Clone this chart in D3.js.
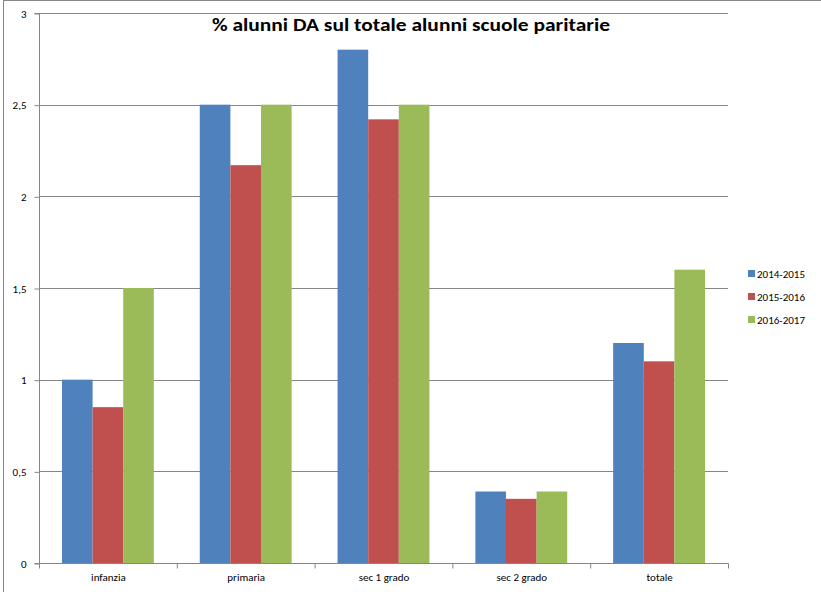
<!DOCTYPE html>
<html><head><meta charset="utf-8">
<script src="https://cdn.jsdelivr.net/npm/d3@7"></script>
<style>body{margin:0;background:#fff}svg{display:block}</style>
</head><body>
<svg id="c" width="821" height="592"></svg>
<script>
const categories = ["infanzia", "primaria", "sec 1 grado", "sec 2 grado", "totale"];
const seriesNames = ["2014-2015", "2015-2016", "2016-2017"];
const s2014 = [1.0, 2.5, 2.8, 0.39, 1.2];
const s2015 = [0.85, 2.17, 2.42, 0.35, 1.1];
const s2016 = [1.5, 2.5, 2.5, 0.39, 1.6];
const colors = ["#4F81BD", "#C0504D", "#9BBB59"];
const yTicks = [0, 0.5, 1, 1.5, 2, 2.5, 3];
const title = "% alunni DA sul totale alunni scuole paritarie";

const series = [s2014, s2015, s2016];
const svg = d3.select("#c");
const font = "Carlito, Calibri, 'Liberation Sans Narrow', 'Open Sans', sans-serif";

// frame
svg.append("line").attr("x1",3).attr("x2",821).attr("y1",0.5).attr("y2",0.5).attr("stroke","#868686");
svg.append("line").attr("x1",3.5).attr("x2",3.5).attr("y1",0).attr("y2",592).attr("stroke","#868686");

const x0 = 39, x1 = 728, yTop = 13, yBot = 563;
const x = d3.scaleBand().domain(categories).range([x0, x1]).paddingInner(0).paddingOuter(0);
const y = d3.scaleLinear().domain([0, 3]).range([yBot, yTop]);
const bw = x.bandwidth() / 4.5;
const xs = d3.scaleBand().domain(seriesNames).range([0.75 * bw, 3.75 * bw]);

// gridlines
svg.append("g").selectAll("line").data(yTicks.filter(d => d > 0)).join("line")
  .attr("x1", x0).attr("x2", x1)
  .attr("y1", d => Math.round(y(d)) + 0.5).attr("y2", d => Math.round(y(d)) + 0.5)
  .attr("stroke", "#868686").attr("stroke-width", 1);

// bars
const rows = [];
categories.forEach((c, i) => series.forEach((s, j) => rows.push({c, name: seriesNames[j], v: s[i], j})));
svg.append("g").selectAll("rect").data(rows).join("rect")
  .attr("x", d => x(d.c) + xs(d.name))
  .attr("width", xs.bandwidth())
  .attr("y", d => y(d.v))
  .attr("height", d => yBot - y(d.v))
  .attr("fill", d => colors[d.j]);

// y axis
const yAxis = d3.axisLeft(y).tickValues(yTicks).tickSize(5).tickPadding(8)
  .tickFormat(d => String(d).replace(".", ","));
const ga = svg.append("g").attr("transform", `translate(${x0 + 0.5},0.5)`).call(yAxis);
ga.select(".domain").attr("stroke", "#868686").attr("d", `M-5,${yTop}H0V${yBot}H-5`);
ga.selectAll(".tick line").attr("stroke", "#868686");
ga.selectAll(".tick text").attr("font-family", font).attr("font-size", 11).attr("fill", "#000");

// x axis
const xAxis = d3.axisBottom(x).tickSize(0).tickPadding(10);
const gx = svg.append("g").attr("transform", `translate(0.5,${yBot + 0.5})`).call(xAxis);
gx.select(".domain").attr("stroke", "#868686").attr("d", `M${x0},0H${x1}`);
gx.selectAll(".tick text").attr("font-family", font).attr("font-size", 11).attr("fill", "#000");
gx.append("g").selectAll("line").data(d3.range(categories.length + 1)).join("line")
  .attr("x1", i => x0 + i * x.bandwidth()).attr("x2", i => x0 + i * x.bandwidth())
  .attr("y1", 0).attr("y2", 5).attr("stroke", "#868686");

// title
svg.append("text").attr("x", 411).attr("y", 31).attr("text-anchor", "middle")
  .attr("font-family", font).attr("font-weight", "bold").attr("font-size", 19)
  .attr("textLength", 398).attr("lengthAdjust", "spacingAndGlyphs")
  .text(title);

// legend
const lg = svg.append("g").selectAll("g").data(seriesNames).join("g")
  .attr("transform", (d, i) => `translate(748,${270 + i * 23})`);
lg.append("rect").attr("width", 7).attr("height", 7).attr("fill", (d, i) => colors[i]);
lg.append("text").attr("x", 9).attr("y", 7.5).attr("font-family", font).attr("font-size", 11)
  .attr("fill", "#000").text(d => d);
</script>
</body></html>
